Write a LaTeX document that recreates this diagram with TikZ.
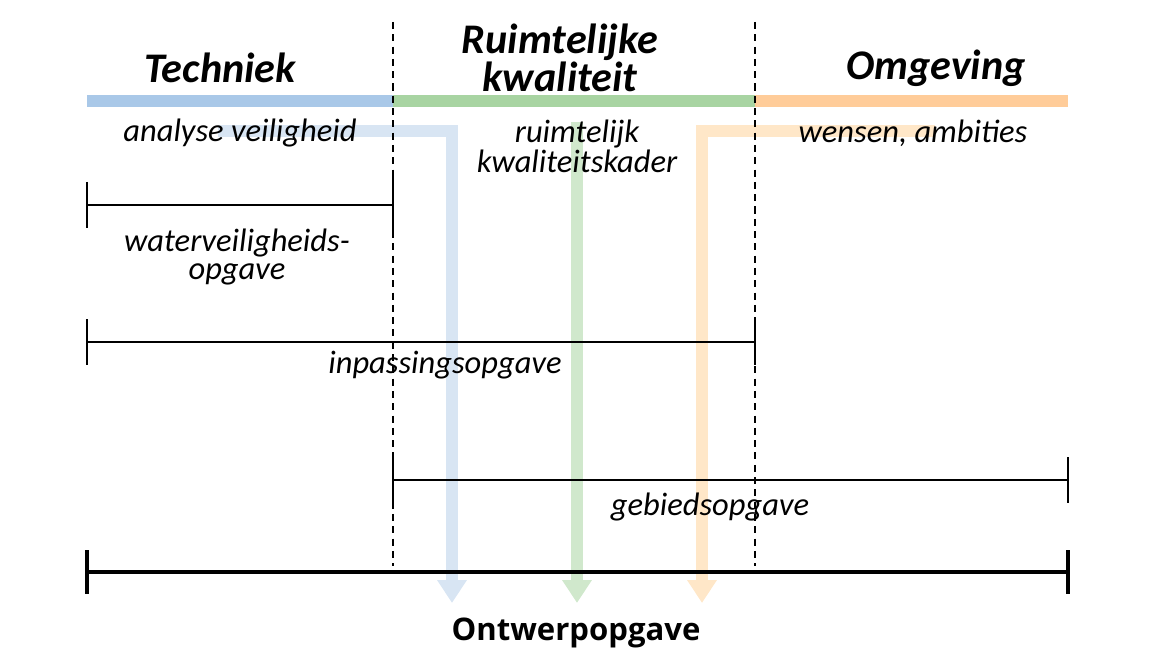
\documentclass[tikz,border=0pt]{standalone}
\usepackage{fontspec}
\setmainfont{Carlito}
\newfontfamily\headfont{Open Sans}
\usetikzlibrary{arrows.meta, positioning}
\definecolor{techblue}{HTML}{A9C8E8}
\definecolor{techroute}{HTML}{D8E5F3}
\definecolor{rkgreen}{HTML}{A8D4A2}
\definecolor{rkroute}{HTML}{D0E8CC}
\definecolor{omgorange}{HTML}{FFCC99}
\definecolor{omgroute}{HTML}{FFE7C8}
\tikzset{
  route/.style={line width=7pt, -{Triangle[width=16pt,length=13pt]}},
  band/.style={line width=6.3pt},
  divider/.style={line width=0.85pt, dash pattern=on 4pt off 3pt},
  span/.style={line width=0.85pt},
  lbl/.style={font=\itshape\fontsize{18.5}{15}\selectfont, align=center, inner sep=0pt},
  head/.style={font=\bfseries\itshape\fontsize{24}{20.5}\selectfont, align=center, inner sep=0pt}
}

\begin{document}
\begin{tikzpicture}[x=0.02cm, y=-0.02cm]
        \useasboundingbox (0,0) rectangle (1165,665);
        % kolommen
        \coordinate (L) at (87,101);
        \coordinate (M1) at (393,101);
        \coordinate (M2) at (755,101);
        \coordinate (R) at (1068,101);
        % routes naar de ontwerpopgave
        \coordinate (techstart) at (218,131);
        \coordinate (techbend) at (452,131);
        \coordinate (techend) at (452,603);
        \coordinate (rkstart) at (577,122);
        \coordinate (rkend) at (577,603);
        \coordinate (omgstart) at (935,131);
        \coordinate (omgbend) at (702,131);
        \coordinate (omgend) at (702,603);
        \draw[route, techroute] (techstart) -- (techbend) -- (techend);
        \draw[route, rkroute] (rkstart) -- (rkend);
        \draw[route, omgroute] (omgstart) -- (omgbend) -- (omgend);
        \draw[band, techblue] (L) -- (M1);
        \draw[band, rkgreen] (M1) -- (M2);
        \draw[band, omgorange] (M2) -- (R);
        \draw[divider] (393,22) -- (393,566);
        \draw[divider] (755,22) -- (755,566);
        % opgaven
        \coordinate (w1) at (87,205);
        \coordinate (w2) at (393,205);
        \coordinate (i1) at (87,342);
        \coordinate (i2) at (755,342);
        \coordinate (g1) at (393,480);
        \coordinate (g2) at (1068,480);
        \coordinate (o1) at (87,572);
        \coordinate (o2) at (1068,572);
        \draw[span] (w1) -- (w2);
        \draw[span] (w1) ++(0,-23) -- ++(0,46);
        \draw[span] (w2) ++(0,-29) -- ++(0,56);
        \draw[span] (i1) -- (i2);
        \draw[span] (i1) ++(0,-23) -- ++(0,46);
        \draw[span] (i2) ++(0,-23) -- ++(0,46);
        \draw[span] (g1) -- (g2);
        \draw[span] (g1) ++(0,-23) -- ++(0,46);
        \draw[span] (g2) ++(0,-23) -- ++(0,46);
        \draw[line width=2pt] (o1) -- (o2);
        \draw[line width=2pt] (o1) ++(0,-22) -- ++(0,44);
        \draw[line width=2pt] (o2) ++(0,-22) -- ++(0,44);
        % teksten
        \node[head] (techniek) at (220,68) {Techniek};
        \node[head] (ruimte) at (560,58) {Ruimtelijke\\kwaliteit};
        \node[head] (omgeving) at (936,68) {Omgeving};
        \node[lbl] (analyse) at (240,133) {analyse veiligheid};
        \node[lbl] (kader) at (577,146) {ruimtelijk\\kwaliteitskader};
        \node[lbl] (wensen) at (913,133) {wensen, ambities};
        \node[lbl, font=\itshape\fontsize{18.5}{16.5}\selectfont] (water) at (237,257) {waterveiligheids-\\opgave};
        \node[lbl] (inpassing) at (445,365) {inpassingsopgave};
        \node[lbl] (gebied) at (710,507) {gebiedsopgave};
        \node[font=\headfont\bfseries\fontsize{17.7}{18}\selectfont, inner sep=0pt] (ontwerp) at (576,633) {Ontwerpopgave};
    \end{tikzpicture}
\end{document}
